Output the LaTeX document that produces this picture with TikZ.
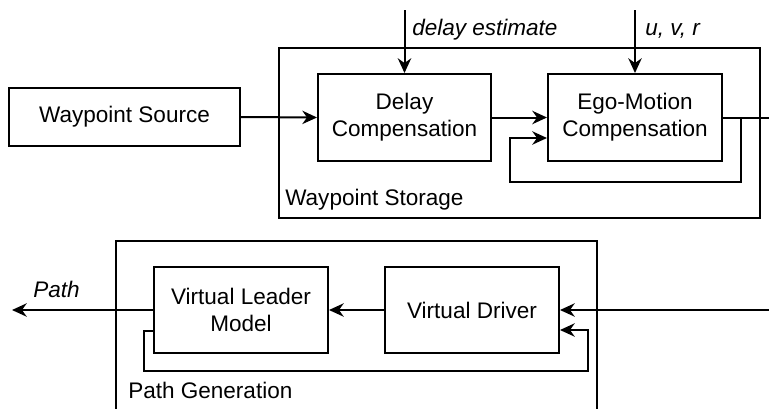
\documentclass[tikz,border=0pt]{standalone}
\usepackage{fontspec}
\setmainfont{Liberation Sans}
\usetikzlibrary{arrows.meta}
\begin{document}
\begin{tikzpicture}[x=0.75pt,y=-0.75pt,
  every node/.style={font=\fontsize{16.9}{20.3}\selectfont},
  box/.style={draw, line width=1.5pt, inner sep=0pt, align=center},
  wire/.style={line width=1.5pt, line join=miter},
  arr/.style={wire, -{Stealth[length=11pt,width=10pt,inset=3.5pt]}},
  lbl/.style={inner sep=0pt, anchor=base west}]
\useasboundingbox (0,0) rectangle (769,408);
\clip (0,0) rectangle (769,408);

% containers
\node[box, minimum width=360.75pt, minimum height=127.5pt] (storage) at (519.5,133) {};
\node[box, minimum width=360.75pt, minimum height=141.75pt] (pathgen) at (356.5,335.5) {};

% blocks
\node[box, minimum width=173.25pt, minimum height=43.5pt] (src) at (124.5,117) {Waypoint Source};
\node[box, minimum width=129.75pt, minimum height=65.25pt] (delay) at (404.5,117.5) {Delay\\Compensation};
\node[box, minimum width=130.5pt, minimum height=65.25pt] (ego) at (635,117.5) {Ego-Motion\\Compensation};
\node[box, minimum width=130.5pt, minimum height=64.5pt] (leader) at (241,310) {Virtual Leader\\Model};
\node[box, minimum width=130.5pt, minimum height=64.5pt] (driver) at (472,310) {Virtual Driver};

% labels
\node[lbl] (delaylbl) at (412,35) {\itshape delay estimate};
\node[lbl] (uvrlbl) at (645,35) {\itshape u, v, r};
\node[lbl] (storagelbl) at (285,205) {Waypoint Storage};
\node[lbl] (pathgenlbl) at (128,398) {Path Generation};
\node[lbl] (pathlbl) at (33,297) {\itshape Path};

% free ends
\coordinate (deIn) at (404.5,10);
\coordinate (uvrIn) at (635,10);
\coordinate (egoOut) at (769,117.5);
\coordinate (drvIn) at (769,310);
\coordinate (pathOut) at (12,310);

% connectors top
\draw[arr] (src.east) -- (delay.west);
\draw[arr] (delay.east) -- (ego.west);
\draw[arr] (deIn) -- (deIn |- delay.north);
\draw[arr] (uvrIn) -- (uvrIn |- ego.north);
\draw[wire] (ego.east) -- (egoOut);
\draw[arr] (ego.east) -| (741,182) -| (510,138) -- (ego.west |- 0,138);

% connectors bottom
\draw[arr] (drvIn) -- (driver.east);
\draw[arr] (driver.west) -- (leader.east);
\draw[arr] (leader.west) -- (pathOut);
\draw[arr] (leader.west |- 0,331) -| (144,371) -| (588,330) -- (driver.east |- 0,330);
\end{tikzpicture}
\end{document}
